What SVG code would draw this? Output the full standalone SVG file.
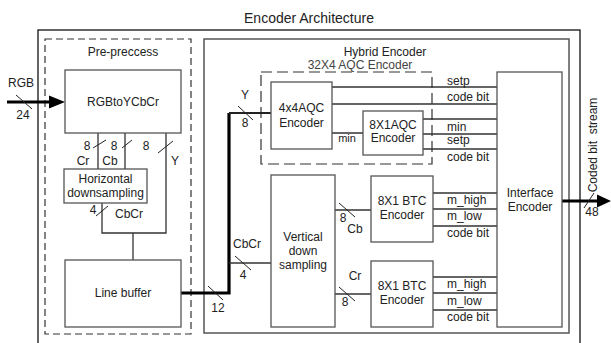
<svg xmlns="http://www.w3.org/2000/svg" width="611" height="343" viewBox="0 0 611 343">
<style>
text{font-family:"Liberation Sans",Arial,sans-serif;font-size:12px;fill:#222}
.mid{text-anchor:middle}
.box{fill:#fff;stroke:#555;stroke-width:1.3}
.ln{fill:none;stroke:#333;stroke-width:1.3}
.thick{fill:none;stroke:#000;stroke-width:3.2}
.sl{fill:none;stroke:#222;stroke-width:1}
.dash1{fill:none;stroke:#333;stroke-width:1.2;stroke-dasharray:7 4}
.dash2{fill:none;stroke:#333;stroke-width:1.2;stroke-dasharray:11 5}
</style>
<rect width="611" height="343" fill="#fff"/>
<text class="mid" x="309" y="23" style="font-size:14px">Encoder Architecture</text>
<g id="outer"><rect x="38" y="30" width="542" height="340" fill="none" stroke="#111" stroke-width="1.3"/></g>
<g id="preprocess"><rect class="dash1" x="45" y="39" width="146" height="295"/><text class="mid" x="123" y="56">Pre-preccess</text></g>
<g id="hybrid"><rect x="204" y="39" width="365" height="294" fill="none" stroke="#555" stroke-width="1.5"/><text class="mid" x="385" y="56">Hybrid Encoder</text></g>
<g id="aqc32"><rect class="dash2" x="261" y="72" width="171" height="92"/><text class="mid" x="360" y="69" style="fill:#444">32X4 AQC Encoder</text></g>

<g id="connectors">
<!-- RGB input -->
<line class="thick" x1="7" y1="102" x2="52" y2="102"/>
<polygon points="49,95.5 65,102 49,108.5" fill="#000"/>
<line class="sl" x1="16" y1="95" x2="32" y2="109"/>
<!-- preprocess internal -->
<path class="ln" d="M98 133V169M125 133V169M166 133V233H102V203M133 233V260"/>
<line class="sl" x1="93" y1="148" x2="106" y2="140"/>
<line class="sl" x1="122" y1="148" x2="132" y2="140"/>
<line class="sl" x1="158" y1="153" x2="173" y2="141"/>
<line class="sl" x1="96" y1="216" x2="108" y2="206"/>
<!-- line buffer to hybrid -->
<path class="thick" d="M181 293H229V113"/>
<line x1="229" y1="113" x2="271" y2="113" stroke="#222" stroke-width="2"/>
<line class="ln" x1="229" y1="263" x2="271" y2="263"/>
<line class="sl" x1="208" y1="286" x2="223" y2="300"/>
<line class="sl" x1="238" y1="106" x2="253" y2="120"/>
<line class="sl" x1="235" y1="256" x2="251" y2="270"/>
<!-- vertical down sampling to BTC -->
<line class="ln" x1="335" y1="210" x2="371" y2="210"/>
<line class="ln" x1="335" y1="294" x2="371" y2="294"/>
<line class="sl" x1="339" y1="203" x2="355" y2="217"/>
<line class="sl" x1="339" y1="287" x2="355" y2="301"/>
<!-- AQC outputs -->
<path class="ln" d="M332 87H497M332 104H497M332 133H363M423 119H497M423 134H497M423 149H497"/>
<!-- BTC outputs -->
<path class="ln" d="M433 193H497M433 209H497M433 226H497M433 277H497M433 293H497M433 310H497"/>
<!-- output -->
<line class="thick" x1="562" y1="201" x2="600" y2="201"/>
<polygon points="597,194.5 611,201 597,207.5" fill="#000"/>
<line class="sl" x1="584" y1="208" x2="594" y2="193"/>
</g>

<g id="rgb2ycbcr"><rect class="box" x="65" y="70" width="116" height="63"/><text class="mid" x="123" y="106">RGBtoYCbCr</text></g>
<g id="hdown"><rect class="box" x="64" y="169" width="83" height="34"/><text class="mid" x="105.5" y="183">Horizontal</text><text class="mid" x="105.5" y="197">downsampling</text></g>
<g id="linebuffer"><rect class="box" x="65" y="260" width="116" height="67"/><text class="mid" x="123" y="297">Line buffer</text></g>
<g id="aqc44"><rect class="box" x="271" y="82" width="61" height="67"/><text class="mid" x="301.5" y="112">4x4AQC</text><text class="mid" x="301.5" y="127">Encoder</text></g>
<g id="aqc81"><rect class="box" x="363" y="111" width="60" height="44"/><text class="mid" x="393" y="129">8X1AQC</text><text class="mid" x="393" y="142">Encoder</text></g>
<g id="vdown"><rect class="box" x="271" y="175" width="64" height="152"/><text class="mid" x="303" y="241">Vertical</text><text class="mid" x="303" y="255">down</text><text class="mid" x="303" y="269">sampling</text></g>
<g id="btc1"><rect class="box" x="371" y="176" width="62" height="66"/><text class="mid" x="402" y="205">8X1 BTC</text><text class="mid" x="402" y="219">Encoder</text></g>
<g id="btc2"><rect class="box" x="371" y="261" width="62" height="66"/><text class="mid" x="402" y="290">8X1 BTC</text><text class="mid" x="402" y="304">Encoder</text></g>
<g id="interface"><rect class="box" x="497" y="72" width="65" height="255"/><text class="mid" x="530" y="197">Interface</text><text class="mid" x="530" y="211">Encoder</text></g>

<g id="labels">
<text class="mid" x="21" y="87">RGB</text>
<text class="mid" x="23" y="119">24</text>
<text class="mid" x="87" y="150">8</text>
<text class="mid" x="83" y="165">Cr</text>
<text class="mid" x="114" y="150">8</text>
<text class="mid" x="110" y="165">Cb</text>
<text class="mid" x="146" y="150">8</text>
<text class="mid" x="175" y="165">Y</text>
<text class="mid" x="93" y="214">4</text>
<text class="mid" x="129" y="218">CbCr</text>
<text class="mid" x="245" y="99">Y</text>
<text class="mid" x="245" y="127">8</text>
<text class="mid" x="247" y="248">CbCr</text>
<text class="mid" x="243" y="279">4</text>
<text class="mid" x="218" y="312">12</text>
<text class="mid" x="343" y="222">8</text>
<text class="mid" x="355" y="233">Cb</text>
<text class="mid" x="355" y="280">Cr</text>
<text class="mid" x="345" y="306">8</text>
<text class="mid" x="347" y="142" style="font-size:11px">min</text>
<text x="447" y="85">setp</text>
<text x="447" y="101">code bit</text>
<text x="447" y="131">min</text>
<text x="447" y="144">setp</text>
<text x="447" y="161">code bit</text>
<text x="447" y="204">m_high</text>
<text x="447" y="220">m_low</text>
<text x="447" y="237">code bit</text>
<text x="447" y="288">m_high</text>
<text x="447" y="305">m_low</text>
<text x="447" y="321">code bit</text>
<text class="mid" x="592" y="216">48</text>
<text class="mid" transform="translate(597 145) rotate(-90)" style="white-space:pre">Coded bit  stream</text>
</g>
</svg>
